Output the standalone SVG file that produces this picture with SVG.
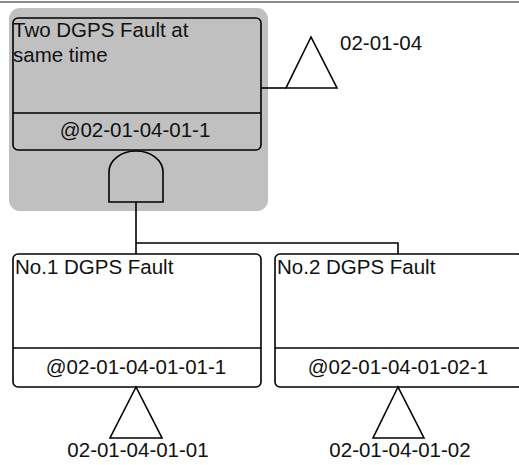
<svg xmlns="http://www.w3.org/2000/svg" width="519" height="465" viewBox="0 0 519 465">
<style>
.ln{fill:none;stroke:#000;stroke-width:1.6}
.box{stroke:#000;stroke-width:1.6}
.t{font-family:"Liberation Sans",Arial,sans-serif;font-size:20.5px;fill:#111}
.c{text-anchor:middle}
</style>
<rect width="519" height="465" fill="#fff"/>
<line x1="0" y1="2" x2="519" y2="2" stroke="#8a8a8a" stroke-width="2"/>
<rect x="9" y="8" width="259" height="203" rx="11" fill="#c0c0c0"/>
<g id="connectors">
<path class="ln" d="M261,88 H286"/>
<path class="ln" d="M136,202 V254 M136,243 H398 V254"/>
</g>
<g id="top-event">
<rect class="box" x="13" y="18" width="248" height="132" rx="5" fill="none"/>
<line class="ln" x1="13" y1="113" x2="261" y2="113"/>
<text class="t" x="13" y="37">Two DGPS Fault at</text>
<text class="t" x="13" y="62">same time</text>
<text class="t c" x="135" y="137">@02-01-04-01-1</text>
</g>
<g id="and-gate">
<path class="ln" d="M109,202 V172 A27,21 0 0 1 163,172 V202 Z"/>
</g>
<g id="transfer-top">
<path class="ln" d="M311,37 L286,88 H337 Z"/>
<text class="t" x="340" y="50">02-01-04</text>
</g>
<g id="event-1">
<rect class="box" x="13" y="254" width="248" height="133" rx="5" fill="#fff"/>
<line class="ln" x1="13" y1="348" x2="261" y2="348"/>
<text class="t" x="15" y="274">No.1 DGPS Fault</text>
<text class="t c" x="136" y="374">@02-01-04-01-01-1</text>
</g>
<g id="transfer-1">
<path class="ln" d="M136,387 L110,438 H162 Z"/>
<text class="t c" x="138" y="457">02-01-04-01-01</text>
</g>
<g id="event-2">
<rect class="box" x="275" y="254" width="248" height="133" rx="5" fill="#fff"/>
<line class="ln" x1="275" y1="348" x2="519" y2="348"/>
<text class="t" x="277" y="274">No.2 DGPS Fault</text>
<text class="t c" x="398" y="374">@02-01-04-01-02-1</text>
</g>
<g id="transfer-2">
<path class="ln" d="M398,387 L373,438 H424 Z"/>
<text class="t c" x="400" y="457">02-01-04-01-02</text>
</g>
</svg>
